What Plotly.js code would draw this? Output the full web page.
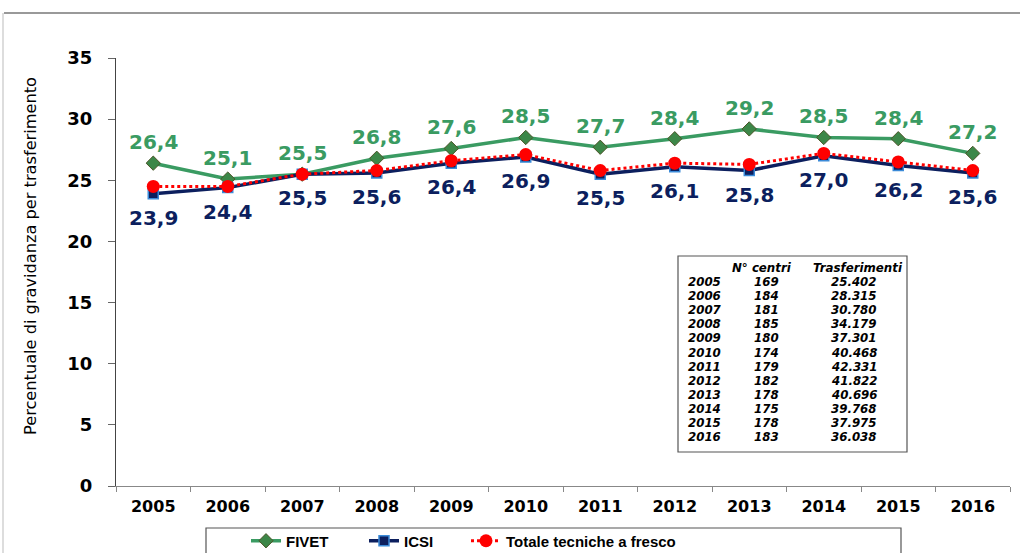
<!DOCTYPE html>
<html>
<head>
<meta charset="utf-8">
<script src="https://cdn.plot.ly/plotly-3.0.1.min.js"></script>
<style>
  html, body { margin: 0; padding: 0; background: #fff; }
  #chart { width: 1020px; height: 553px; }
</style>
</head>
<body>
<div id="chart"></div>
<script>
// ---- data ----
const years = ['2005','2006','2007','2008','2009','2010','2011','2012','2013','2014','2015','2016'];
const fivet = [26.4, 25.1, 25.5, 26.8, 27.6, 28.5, 27.7, 28.4, 29.2, 28.5, 28.4, 27.2];
const icsi  = [23.9, 24.4, 25.5, 25.6, 26.4, 26.9, 25.5, 26.1, 25.8, 27.0, 26.2, 25.6];
const totale = [24.5, 24.5, 25.5, 25.8, 26.6, 27.1, 25.8, 26.4, 26.3, 27.2, 26.5, 25.8];
const nCentri = [169, 184, 181, 185, 180, 174, 179, 182, 178, 175, 178, 183];
const trasferimenti = ['25.402','28.315','30.780','34.179','37.301','40.468','42.331','41.822','40.696','39.768','37.975','36.038'];
const seriesNames = ['FIVET', 'ICSI', 'Totale tecniche a fresco'];
const yTitle = 'Percentuale di gravidanza per trasferimento';
const tableHeaders = ['N° centri', 'Trasferimenti'];

// ---- helpers: pixel -> paper ----
const L = 116, R = 1010, T = 58, B = 486;
const px = x => (x - L) / (R - L);
const py = y => (B - y) / (B - T);
const fmt = v => v.toFixed(1).replace('.', ',');

const green = 'rgb(58,155,98)';
const navy = '#0c1f5e';
const red = '#ff0000';
const numFont = 'DejaVu Sans, Verdana, sans-serif';

const traces = [
  {
    x: years, y: fivet, name: seriesNames[0], type: 'scatter', mode: 'lines+markers',
    line: {color: green, width: 3.5},
    marker: {symbol: 'diamond', size: 11, color: 'rgb(60,135,72)', line: {color: 'rgb(75,85,40)', width: 1}},
    legendwidth: 73, cliponaxis: false
  },
  {
    x: years, y: icsi, name: seriesNames[1], type: 'scatter', mode: 'lines+markers',
    line: {color: navy, width: 3.5},
    marker: {symbol: 'square', size: 10, color: navy, line: {color: '#3a8ad8', width: 1.5}},
    legendwidth: 57, cliponaxis: false
  },
  {
    x: years, y: totale, name: seriesNames[2], type: 'scatter', mode: 'lines+markers',
    line: {color: red, width: 3, dash: 'dot'},
    marker: {symbol: 'circle', size: 13, color: red},
    cliponaxis: false
  }
];

const annotations = [];
// data labels (x = category index on the category axis)
years.forEach((yr, i) => {
  annotations.push({x: i, y: fivet[i], xref: 'x', yref: 'y', text: fmt(fivet[i]), showarrow: false,
    yshift: 21, xanchor: 'center', yanchor: 'middle',
    font: {family: numFont, size: 20, color: green, weight: 'bold'}});
  annotations.push({x: i, y: icsi[i], xref: 'x', yref: 'y', text: fmt(icsi[i]), showarrow: false,
    yshift: -24, xanchor: 'center', yanchor: 'middle',
    font: {family: numFont, size: 20, color: navy, weight: 'bold'}});
});
// table
const tFont = {family: numFont, size: 11.8, color: '#000', style: 'italic', weight: 'bold'};
annotations.push({xref:'paper', yref:'paper', x: px(762), y: py(268), text: tableHeaders[0], showarrow:false, xanchor:'center', yanchor:'middle', font: tFont});
annotations.push({xref:'paper', yref:'paper', x: px(858), y: py(268), text: tableHeaders[1], showarrow:false, xanchor:'center', yanchor:'middle', font: tFont});
years.forEach((yr, i) => {
  const yy = py(282 + i * 14.1);
  annotations.push({xref:'paper', yref:'paper', x: px(686), y: yy, text: yr, showarrow:false, xanchor:'left', yanchor:'middle', font: tFont});
  annotations.push({xref:'paper', yref:'paper', x: px(766), y: yy, text: String(nCentri[i]), showarrow:false, xanchor:'center', yanchor:'middle', font: tFont});
  annotations.push({xref:'paper', yref:'paper', x: px(854), y: yy, text: trasferimenti[i], showarrow:false, xanchor:'center', yanchor:'middle', font: tFont});
});
// y axis title
annotations.push({xref:'paper', yref:'paper', x: px(30), y: py(256), text: yTitle, textangle: -90, showarrow:false, xanchor:'center', yanchor:'middle',
  font: {family: numFont, size: 16.2, color: '#000'}});

const shapes = [
  {type:'rect', xref:'paper', yref:'paper', x0: px(678), x1: px(907), y0: py(452), y1: py(256), line:{color:'#555', width:1.2}, fillcolor:'rgba(0,0,0,0)'},
  {type:'rect', xref:'paper', yref:'paper', x0: px(206), x1: px(901), y0: py(562), y1: py(528), line:{color:'#555', width:1.2}, fillcolor:'rgba(0,0,0,0)'},
  {type:'line', xref:'paper', yref:'paper', x0: px(4), x1: px(1020), y0: py(13), y1: py(13), line:{color:'#999', width:2}},
  {type:'line', xref:'paper', yref:'paper', x0: px(3), x1: px(3), y0: py(13), y1: py(553), line:{color:'#bbb', width:1}}
];

const layout = {
  width: 1020, height: 553,
  margin: {l: L, r: 1020 - R, t: T, b: 553 - B, pad: 0, autoexpand: false},
  paper_bgcolor: '#fff', plot_bgcolor: '#fff',
  showlegend: true,
  legend: {
    orientation: 'h', x: px(246), xanchor: 'left', y: py(541), yanchor: 'middle',
    font: {family: 'Liberation Sans, Arial, sans-serif', size: 15, color: '#000', weight: 'bold'},
    bgcolor: 'rgba(0,0,0,0)', borderwidth: 0, traceorder: 'normal'
  },
  xaxis: {
    type: 'category', categoryarray: years, categoryorder: 'array',
    range: [-0.5, years.length - 0.5], autorange: false,
    showgrid: false, zeroline: false,
    showline: true, linecolor: '#888', linewidth: 1,
    ticks: 'outside', tickson: 'boundaries', ticklen: 5, tickcolor: '#888',
    tickfont: {family: numFont, size: 16, color: '#000', weight: 'bold'},
    ticklabelstandoff: 6, fixedrange: true, automargin: false
  },
  yaxis: {
    range: [0, 35], autorange: false, dtick: 5, showgrid: false, zeroline: false,
    showline: true, linecolor: '#444', linewidth: 1,
    ticks: 'outside', ticklen: 7, tickcolor: '#666',
    tickfont: {family: numFont, size: 18, color: '#000', weight: 'bold'},
    ticklabelstandoff: 12, fixedrange: true, automargin: false
  },
  annotations: annotations,
  shapes: shapes
};

Plotly.newPlot('chart', traces, layout, {displayModeBar: false, staticPlot: true});
</script>
</body>
</html>
